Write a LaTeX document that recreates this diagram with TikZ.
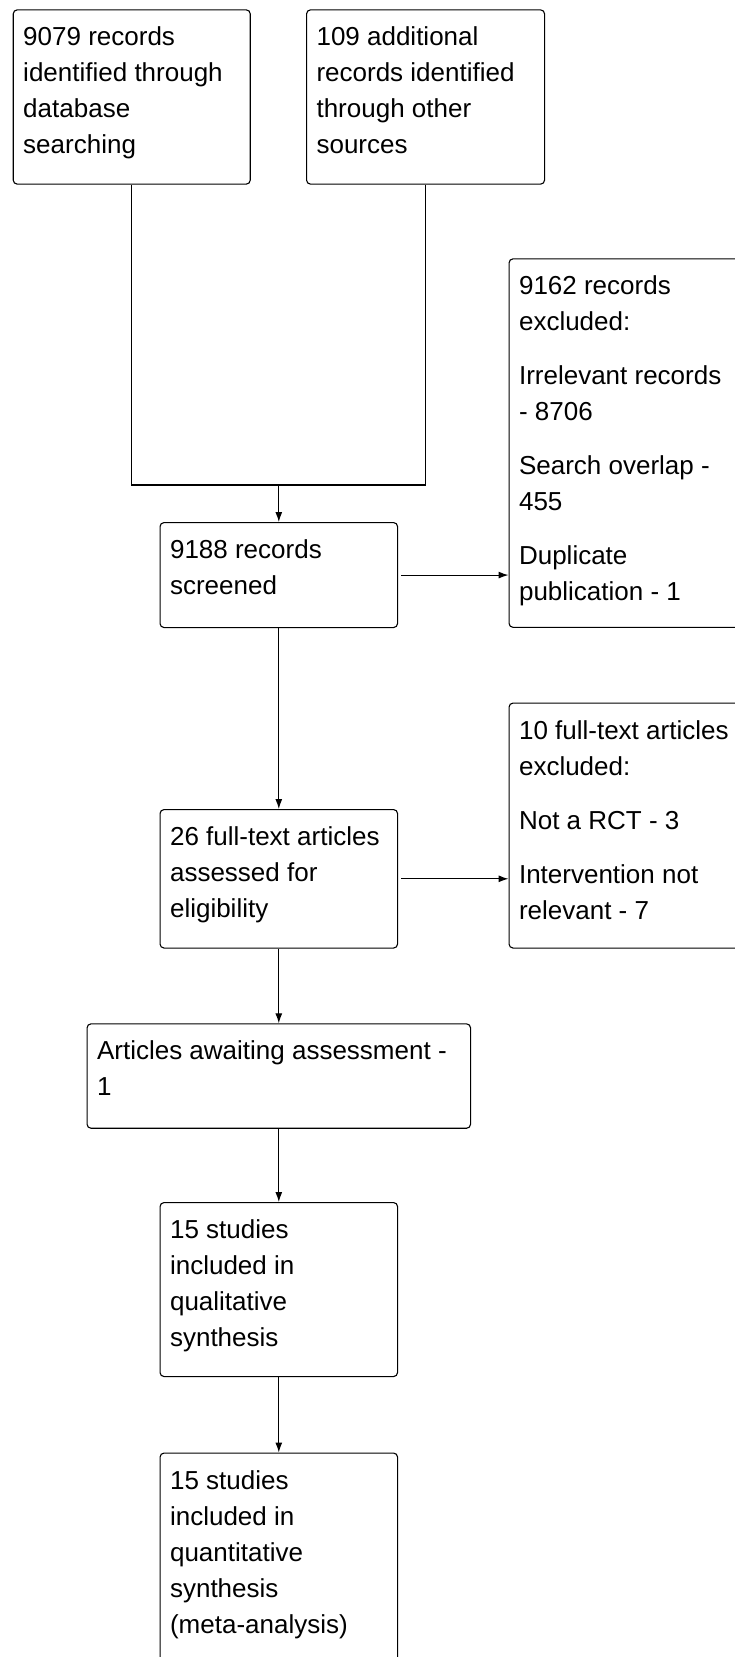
\documentclass[tikz,border=0pt]{standalone}
\usepackage{fontspec}
\setmainfont{Liberation Sans}
\usetikzlibrary{arrows.meta}
\tikzset{>/.tip={Latex[length=10pt,width=7pt]}}
\tikzset{box/.style={draw, line width=1.1pt, rounded corners=4pt, anchor=north west,
  inner xsep=10pt, inner ysep=10.8pt, font=\fontsize{26}{36}\selectfont}}
\newcommand{\boxtext}[3]{\parbox[t][#2][t]{#1}{\raggedright\strut #3}}

\begin{document}
\begin{tikzpicture}[x=1pt,y=-1pt,line width=1.1pt]
\useasboundingbox (0,0) rectangle (734,1657);
\node[box] (1) at (12.7,9.3)   {\boxtext{217pt}{152.7pt}{9079 records\\identified through\\database\\searching}};
\node[box] (2) at (306,9.3)    {\boxtext{218pt}{152.7pt}{109 additional\\records identified\\through other\\sources}};
\node[box] (3) at (508.5,258.3) {\boxtext{220pt}{346.9pt}{9162 records\\excluded:\\[18pt]Irrelevant records\\- 8706\\[18pt]Search overlap -\\455\\[18pt]Duplicate\\publication - 1}};
\node[box] (4) at (159.5,522)  {\boxtext{217.5pt}{83.4pt}{9188 records\\screened}};
\node[box] (5) at (508.5,702.5) {\boxtext{220pt}{223.4pt}{10 full-text articles\\excluded:\\[18pt]Not a RCT - 3\\[18pt]Intervention not\\relevant - 7}};
\node[box] (6) at (159.5,809)  {\boxtext{217.5pt}{116.9pt}{26 full-text articles\\assessed for\\eligibility}};
\node[box] (7) at (86.5,1023.3) {\boxtext{363.5pt}{82.8pt}{Articles awaiting assessment -\\1}};
\node[box] (8) at (159.5,1202) {\boxtext{217.5pt}{152.4pt}{15 studies\\included in\\qualitative\\synthesis}};
\node[box] (9) at (159.5,1452.5) {\boxtext{217.5pt}{228.4pt}{15 studies\\included in\\quantitative\\synthesis\\(meta-analysis)}};

\coordinate (j) at (4.north |- 0,485);
\draw (1.south) |- (j);
\draw (2.south) |- (j);
\path[->] (j) edge (4.north);
\path[->] (4.east) edge[shorten <=3pt] (4.east -| 3.west);
\path[->] (4) edge (6);
\path[->] (6.east) edge[shorten <=3pt] (6.east -| 5.west);
\path[->] (6) edge (7);
\path[->] (7) edge (8);
\path[->] (8) edge (9);
\end{tikzpicture}
\end{document}
